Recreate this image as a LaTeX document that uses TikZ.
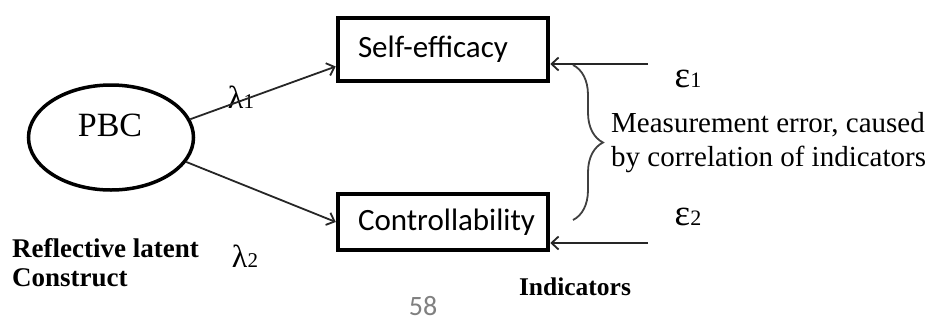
\documentclass[tikz,border=0pt]{standalone}
\usepackage{fontspec}
\setmainfont{Liberation Serif}
\newfontfamily\calibri{Carlito}
\usetikzlibrary{positioning,shapes,arrows.meta,decorations.pathreplacing}

\begin{document}
\begin{tikzpicture}
    [x=1pt,y=-1pt,>={Straight Barb[length=7pt,width=13pt]},
     latent/.style={draw, ellipse, line width=3.5pt, minimum width=165pt, minimum height=105pt, inner sep=0pt},
     indicator/.style={draw, rectangle, line width=4.5pt, inner xsep=20pt, inner ysep=0pt, text width=170pt, align=left, font=\calibri\fontsize{31}{32}\selectfont},
     link/.style={->, line width=1.8pt, black!85},
     note/.style={inner sep=0pt, align=left},
     brace/.style={decorate, decoration={brace, amplitude=30pt}, line width=1.8pt, black!75}]
  \useasboundingbox (0,0) rectangle (940,322);

  \node[latent] (pbc) at (111,137.5) {};
  \node[note, font=\fontsize{34}{34}\selectfont] (pbctext) at (110,125) {PBC};

  \node[indicator, minimum height=63pt] (self) at (443,49.5) {Self-efficacy};
  \node[indicator, minimum height=56pt] (ctl) at (443,222) {Controllability};

  \node[note, font=\fontsize{32}{32}\selectfont] (lam1) at (241,97) {λ{\fontsize{21}{21}\selectfont 1}};
  \node[note, font=\fontsize{32}{32}\selectfont] (lam2) at (245,256) {λ{\fontsize{21}{21}\selectfont 2}};

  \node[note, font=\fontsize{37}{37}\selectfont] (eps1) at (688,79) {ε{\fontsize{22}{22}\selectfont 1}};
  \node[note, font=\fontsize{37}{37}\selectfont] (eps2) at (688,217) {ε{\fontsize{22}{22}\selectfont 2}};

  \node[note, anchor=west, font=\fontsize{29}{34}\selectfont] (error) at (611,143)
    {Measurement error, caused\\by correlation of indicators};
  \node[note, anchor=west, font=\bfseries\fontsize{27}{29}\selectfont] (construct) at (12,263)
    {Reflective latent\\Construct};
  \node[note, font=\bfseries\fontsize{25.5}{25.5}\selectfont] (indic) at (575,287) {Indicators};
  \node[note, font=\calibri\fontsize{28}{28}\selectfont, gray] (page) at (423,306) {58};

  \coordinate (e1) at (648,64);
  \coordinate (e2) at (648,243);
  \coordinate (b1) at (573,65);
  \coordinate (b2) at (573,220);

  \draw[link] (pbc.13) -- ([yshift=-17pt]self.west);
  \draw[link] (pbc.-18) -- (ctl.west);
  \draw[link] (e1) -- ([yshift=-14.5pt]self.east);
  \draw[link] (e2) -- ([yshift=-21pt]ctl.east);
  \draw[brace] (b1) -- (b2);
\end{tikzpicture}
\end{document}
